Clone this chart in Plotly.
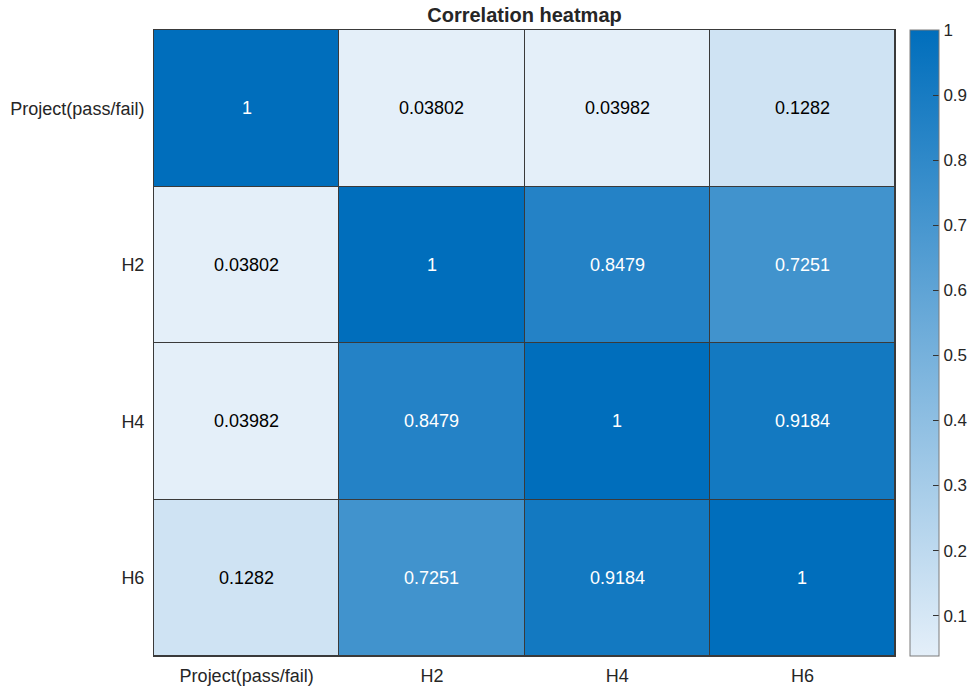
import plotly.graph_objects as go

labels = ["Project(pass/fail)", "H2", "H4", "H6"]
corr = [
    [1.0, 0.03802, 0.03982, 0.1282],
    [0.03802, 1.0, 0.8479, 0.7251],
    [0.03982, 0.8479, 1.0, 0.9184],
    [0.1282, 0.7251, 0.9184, 1.0],
]
cbar_ticks = [0.1, 0.2, 0.3, 0.4, 0.5, 0.6, 0.7, 0.8, 0.9, 1.0]

zmin = min(min(r) for r in corr)
zmax = 1.0

colorscale = [[0.0, "#E4EFF9"], [1.0, "#006EBC"]]

FONT = "Liberation Sans, Arial, Helvetica, sans-serif"
TXT = "#262626"

W, H = 971, 688
L, R, T, B = 154, 895, 30, 656

fig = go.Figure(
    go.Heatmap(
        z=corr,
        x=labels,
        y=labels,
        zmin=zmin,
        zmax=zmax,
        colorscale=colorscale,
        xgap=1,
        ygap=1,
        hoverinfo="skip",
        colorbar=dict(
            thickness=29,
            len=1.0,
            lenmode="fraction",
            y=0.5,
            yanchor="middle",
            x=(910 - L) / (R - L),
            xanchor="left",
            xpad=0,
            ypad=0,
            outlinecolor="#7a7a7a",
            outlinewidth=1,
            tickvals=cbar_ticks,
            ticktext=[("%g" % t) for t in cbar_ticks],
            ticks="inside",
            ticklen=6,
            tickcolor="#333333",
            tickfont=dict(size=17, color=TXT, family=FONT),
        ),
    )
)

annotations = []
for i, row in enumerate(corr):
    for j, v in enumerate(row):
        annotations.append(
            dict(
                x=labels[j],
                y=labels[i],
                text="%.4g" % v,
                showarrow=False,
                font=dict(size=18, family=FONT, color="white" if v > 0.5 else "black"),
            )
        )

fig.update_layout(
    width=W,
    height=H,
    margin=dict(l=L, r=W - R, t=T, b=H - B, autoexpand=False),
    paper_bgcolor="white",
    plot_bgcolor="#3a3a3a",
    title=dict(
        text="<b>Correlation heatmap</b>",
        x=((L + R) / 2) / W,
        xanchor="center",
        y=1 - 15 / H,
        yanchor="middle",
        font=dict(size=20, family=FONT, color=TXT),
    ),
    annotations=annotations,
    xaxis=dict(
        showgrid=False,
        zeroline=False,
        ticks="",
        tickfont=dict(size=18, family=FONT, color=TXT),
        ticklabelstandoff=3,
        showline=True,
        mirror=True,
        linecolor="#3a3a3a",
        linewidth=1,
    ),
    yaxis=dict(
        autorange="reversed",
        showgrid=False,
        zeroline=False,
        ticks="",
        tickfont=dict(size=18, family=FONT, color=TXT),
        ticklabelstandoff=5,
        showline=True,
        mirror=True,
        linecolor="#3a3a3a",
        linewidth=1,
    ),
)

fig.write_html(
    "out.html",
    config={"displayModeBar": False},
    post_script=["document.body.style.margin='0';document.body.style.overflow='hidden';"],
)
